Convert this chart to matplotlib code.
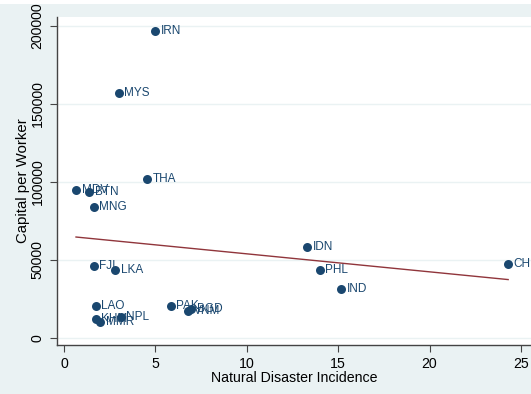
import numpy as np
import matplotlib.pyplot as plt

# data
countries = ["IRN", "MYS", "THA", "MDV", "BTN", "MNG", "FJI", "LKA", "LAO",
             "KHM", "MMR", "NPL", "PAK", "BGD", "VNM", "IDN", "PHL", "IND", "CHN"]
disaster = [4.98, 3.0, 4.54, 0.66, 1.37, 1.64, 1.64, 2.79, 1.75,
            1.75, 1.97, 3.1, 5.85, 6.95, 6.8, 13.3, 14.0, 15.15, 24.3]
capital = [196800, 157000, 102000, 94900, 93600, 84000, 46000, 43600, 20500,
           12000, 10000, 13500, 20500, 18600, 17300, 58300, 43600, 31400, 47400]

x_ticks = [0, 5, 10, 15, 20, 25]
y_ticks = [0, 50000, 100000, 150000, 200000]

navy = "#1a476f"
maroon = "#90353b"
bg = "#eaf2f3"

plt.rcParams["font.family"] = ["Liberation Sans", "DejaVu Sans"]

fig = plt.figure(figsize=(5.31, 3.94), dpi=100)
fig.patch.set_facecolor(bg)
# thin white strip along the top edge
fig.patches.append(plt.Rectangle((0, 1 - 4 / 394), 1, 4 / 394, transform=fig.transFigure,
                                 facecolor="white", edgecolor="none", zorder=0))
ax = fig.add_axes([57 / 531, 1 - 345 / 394, 1 - 57 / 531, (345 - 17) / 394])
ax.set_facecolor("white")

for s in ["top", "right"]:
    ax.spines[s].set_visible(False)
for s in ["left", "bottom"]:
    ax.spines[s].set_color("#444444")
    ax.spines[s].set_linewidth(1.0)

ax.set_yticks(y_ticks)
ax.grid(axis="y", color=bg, linewidth=1.0)
ax.set_axisbelow(True)

# linear fit
b, a = np.polyfit(disaster, capital, 1)
xs = np.array([min(disaster), max(disaster)])
ax.plot(xs, a + b * xs, color=maroon, linewidth=1.0)

ax.scatter(disaster, capital, s=42, color=navy, zorder=3, linewidths=0)
for c, xv, yv in zip(countries, disaster, capital):
    ax.annotate(c, (xv, yv), xytext=(4, 0), textcoords="offset points",
                va="center", ha="left", fontsize=8.5, color=navy)

ax.set_xlim(-0.38, 25.55)
ax.set_ylim(-4490, 205770)
ax.set_xticks(x_ticks)
ax.set_yticklabels([str(v) for v in y_ticks], rotation=90, va="center")
ax.tick_params(axis="both", labelsize=10.2, color="#444444", length=5)
ax.tick_params(axis="y", pad=4)
ax.set_xlabel("Natural Disaster Incidence", fontsize=10.2, labelpad=0)
ax.set_ylabel("Capital per Worker", fontsize=10.8, labelpad=0)

fig.savefig("out.png", dpi=100, facecolor=fig.get_facecolor())
